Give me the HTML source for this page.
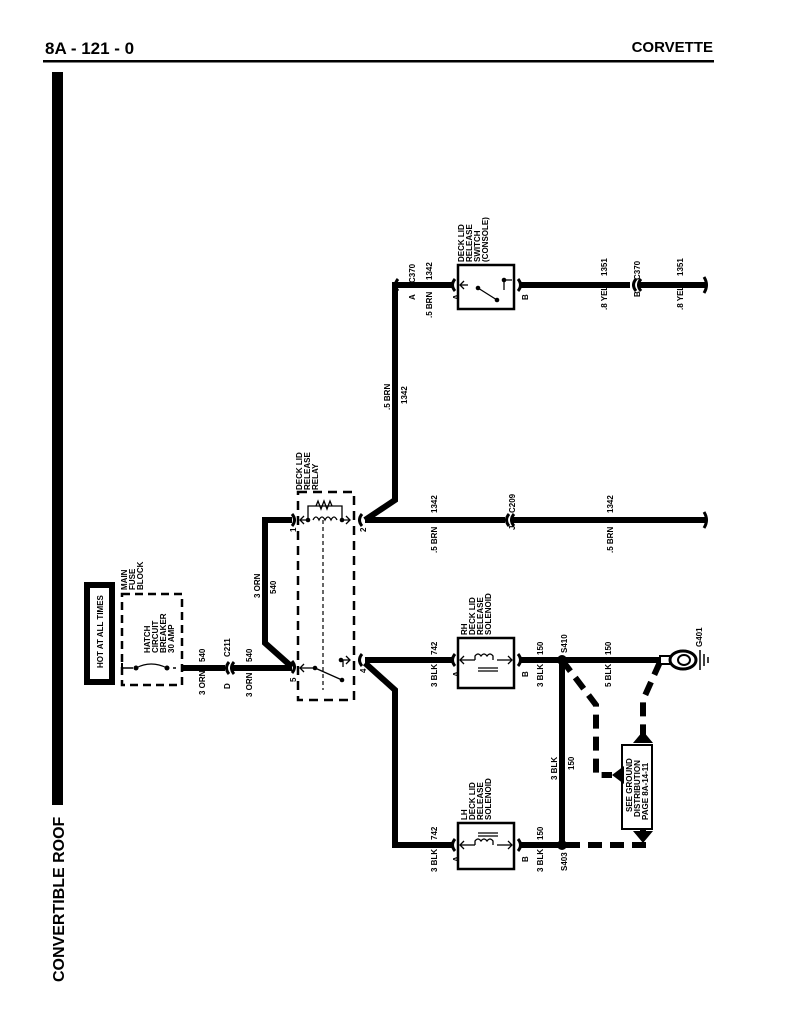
<!DOCTYPE html>
<html><head><meta charset="utf-8"><style>
html,body{margin:0;padding:0;background:#fff;}
svg{display:block;}
text{font-family:"Liberation Sans",sans-serif;font-weight:bold;fill:#000;}
.s{font-size:8px;}
</style></head><body>
<svg width="791" height="1024" viewBox="0 0 791 1024" xmlns="http://www.w3.org/2000/svg">
<text x="45" y="54" font-size="17">8A - 121 - 0</text>
<text x="713" y="52" font-size="15" text-anchor="end">CORVETTE</text>
<rect x="43" y="60" width="671" height="2.5"/>
<rect x="52" y="72" width="11" height="733"/>
<text transform="translate(64,982) rotate(-90)" font-size="16">CONVERTIBLE ROOF</text>

<g fill="none" stroke="#000" stroke-width="6" stroke-linejoin="miter">
<!-- top -->
<polyline points="365,520 395,500 395,285 452,285"/>
<line x1="520" y1="285" x2="630" y2="285"/>
<line x1="638" y1="285" x2="706" y2="285"/>
<!-- middle -->
<line x1="365" y1="520" x2="505" y2="520"/>
<line x1="512" y1="520" x2="706" y2="520"/>
<polyline points="292,520 265,520 265,643 292,667"/>
<!-- bottom -->
<line x1="182" y1="668" x2="225" y2="668"/>
<line x1="232" y1="668" x2="292" y2="668"/>
<line x1="365" y1="660" x2="452" y2="660"/>
<polyline points="365,663 395,690 395,845 452,845"/>
<line x1="520" y1="660" x2="660" y2="660"/>
<line x1="520" y1="845" x2="562" y2="845"/>
<line x1="562" y1="660" x2="562" y2="845"/>
</g>
<g fill="none" stroke="#000" stroke-width="6" stroke-dasharray="14,8">
<polyline points="562,660 596,705 596,775 612,775"/>
<polyline points="660,662 643,700 643,735"/>
<polyline points="566,845 643,845 643,828"/>
</g>
<!-- connectors -->
<g fill="none" stroke="#000" stroke-width="3">
<path d="M229,662 q-5,6 0,12 M234,662 q-5,6 0,12"/>
<path d="M509,514 q-5,6 0,12 M514,514 q-5,6 0,12"/>
<path d="M398,279 q-5,6 0,12"/>
<path d="M455,279 q-5,6 0,12"/>
<path d="M636,279 q-5,6 0,12 M641,279 q-5,6 0,12"/>
<path d="M704,277 q5,8 0,16 M704,512 q5,8 0,16"/>
<path d="M518,279 q5,6 0,12 M455,654 q-5,6 0,12 M518,654 q5,6 0,12 M455,839 q-5,6 0,12 M518,839 q5,6 0,12"/>
<path d="M292,514 q5,6 0,12 M292,661 q5,6 0,12 M362,514 q-5,6 0,12 M362,654 q-5,6 0,12"/>
</g>
<!-- boxes -->
<rect x="87" y="585" width="25" height="97" fill="none" stroke="#000" stroke-width="6"/>
<text transform="translate(103,668) rotate(-90)" class="s">HOT AT ALL TIMES</text>
<rect x="122" y="594" width="60" height="91" fill="none" stroke="#000" stroke-width="2.5" stroke-dasharray="8,5"/>
<line x1="122" y1="668" x2="176" y2="668" stroke="#000" stroke-width="1.5" stroke-dasharray="0"/>
<rect x="133" y="663" width="40" height="10" fill="#fff"/>
<circle cx="136" cy="668" r="2.5"/><circle cx="167" cy="668" r="2.5"/>
<path d="M136,668 q15,-8 31,0" fill="none" stroke="#000" stroke-width="1.2"/>
<line x1="122" y1="663" x2="122" y2="673" stroke="#000" stroke-width="2"/>
<text transform="translate(150,653) rotate(-90)" class="s">HATCH</text>
<text transform="translate(158,653) rotate(-90)" class="s">CIRCUIT</text>
<text transform="translate(166,653) rotate(-90)" class="s">BREAKER</text>
<text transform="translate(174,653) rotate(-90)" class="s">30 AMP</text>
<text transform="translate(127,590) rotate(-90)" class="s">MAIN</text>
<text transform="translate(135,590) rotate(-90)" class="s">FUSE</text>
<text transform="translate(143,590) rotate(-90)" class="s">BLOCK</text>

<text transform="translate(205,662) rotate(-90)" class="s">540</text>
<text transform="translate(205,695) rotate(-90)" class="s">3 ORN</text>
<text transform="translate(230,657) rotate(-90)" class="s">C211</text>
<text transform="translate(230,689) rotate(-90)" class="s">D</text>
<text transform="translate(252,662) rotate(-90)" class="s">540</text>
<text transform="translate(252,697) rotate(-90)" class="s">3 ORN</text>
<text transform="translate(260,598) rotate(-90)" class="s">3 ORN</text>
<text transform="translate(276,594) rotate(-90)" class="s">540</text>

<!-- relay -->
<rect x="298" y="492" width="56" height="208" fill="none" stroke="#000" stroke-width="2.5" stroke-dasharray="9,6"/>
<line x1="323" y1="520" x2="323" y2="690" stroke="#000" stroke-width="1.2" stroke-dasharray="4,3"/>
<g fill="none" stroke="#000" stroke-width="1.3">
<polyline points="300,520 308,520 308,506 342,506 342,520 350,520"/>
<path d="M316,506 l2,-5 l3,8 l3,-8 l3,8 l3,-8 l2,5"/>
<path d="M313,520 q3,-6 6,0 q3,-6 6,0 q3,-6 6,0 q3,-6 6,0"/>
<path d="M304,516 l-4,4 l4,4 M346,516 l4,4 l-4,4"/>
<line x1="300" y1="668" x2="315" y2="668"/><line x1="315" y1="668" x2="342" y2="680"/>
<line x1="341" y1="660" x2="350" y2="660"/><line x1="343" y1="660" x2="343" y2="667"/>
<path d="M304,664 l-4,4 l4,4 M346,656 l4,4 l-4,4"/>
</g>
<circle cx="308" cy="520" r="2.3"/><circle cx="342" cy="520" r="2.3"/>
<circle cx="315" cy="668" r="2.3"/><circle cx="342" cy="680" r="2.3"/><circle cx="341" cy="660" r="2.3"/>
<text transform="translate(302,490) rotate(-90)" class="s">DECK LID</text>
<text transform="translate(310,490) rotate(-90)" class="s">RELEASE</text>
<text transform="translate(318,490) rotate(-90)" class="s">RELAY</text>
<text transform="translate(296,532) rotate(-90)" class="s">1</text>
<text transform="translate(366,532) rotate(-90)" class="s">2</text>
<text transform="translate(296,682) rotate(-90)" class="s">5</text>
<text transform="translate(366,673) rotate(-90)" class="s">4</text>

<!-- switch -->
<rect x="458" y="265" width="56" height="44" fill="none" stroke="#000" stroke-width="2.5"/>
<g fill="none" stroke="#000" stroke-width="1.3">
<line x1="460" y1="285" x2="468" y2="285"/><path d="M464,281 l-4,4 l4,4"/>
<line x1="478" y1="288" x2="497" y2="300"/>
<line x1="504" y1="280" x2="512" y2="280"/><line x1="504" y1="280" x2="504" y2="290"/>
</g>
<circle cx="478" cy="288" r="2.3"/><circle cx="497" cy="300" r="2.3"/><circle cx="504" cy="280" r="2.3"/>
<text transform="translate(464,262) rotate(-90)" class="s">DECK LID</text>
<text transform="translate(472,262) rotate(-90)" class="s">RELEASE</text>
<text transform="translate(480,262) rotate(-90)" class="s">SWITCH</text>
<text transform="translate(488,262) rotate(-90)" class="s">(CONSOLE)</text>
<text transform="translate(415,283) rotate(-90)" class="s">C370</text>
<text transform="translate(415,300) rotate(-90)" class="s">A</text>
<text transform="translate(432,280) rotate(-90)" class="s">1342</text>
<text transform="translate(432,318) rotate(-90)" class="s">.5 BRN</text>
<text transform="translate(459,300) rotate(-90)" class="s">A</text>
<text transform="translate(528,300) rotate(-90)" class="s">B</text>
<text transform="translate(607,276) rotate(-90)" class="s">1351</text>
<text transform="translate(607,310) rotate(-90)" class="s">.8 YEL</text>
<text transform="translate(640,280) rotate(-90)" class="s">C370</text>
<text transform="translate(640,297) rotate(-90)" class="s">B</text>
<text transform="translate(683,276) rotate(-90)" class="s">1351</text>
<text transform="translate(683,310) rotate(-90)" class="s">.8 YEL</text>
<text transform="translate(390,410) rotate(-90)" class="s">.5 BRN</text>
<text transform="translate(407,404) rotate(-90)" class="s">1342</text>
<text transform="translate(437,513) rotate(-90)" class="s">1342</text>
<text transform="translate(437,553) rotate(-90)" class="s">.5 BRN</text>
<text transform="translate(515,513) rotate(-90)" class="s">C209</text>
<text transform="translate(515,530) rotate(-90)" class="s">J</text>
<text transform="translate(613,513) rotate(-90)" class="s">1342</text>
<text transform="translate(613,553) rotate(-90)" class="s">.5 BRN</text>

<!-- RH solenoid -->
<rect x="458" y="638" width="56" height="50" fill="none" stroke="#000" stroke-width="2.5"/>
<g fill="none" stroke="#000" stroke-width="1.3">
<line x1="460" y1="660" x2="475" y2="660"/><line x1="497" y1="660" x2="512" y2="660"/>
<path d="M475,660 v-4 q3,-4 6,0 q3,-4 6,0 q3,-4 6,0 v4"/>
<line x1="478" y1="668" x2="498" y2="668"/><line x1="478" y1="671" x2="498" y2="671"/>
<path d="M464,656 l-4,4 l4,4 M508,656 l4,4 l-4,4"/>
</g>
<text transform="translate(467,635) rotate(-90)" class="s">RH</text>
<text transform="translate(475,635) rotate(-90)" class="s">DECK LID</text>
<text transform="translate(483,635) rotate(-90)" class="s">RELEASE</text>
<text transform="translate(491,635) rotate(-90)" class="s">SOLENOID</text>
<text transform="translate(437,655) rotate(-90)" class="s">742</text>
<text transform="translate(437,687) rotate(-90)" class="s">3 BLK</text>
<text transform="translate(459,677) rotate(-90)" class="s">A</text>
<text transform="translate(528,677) rotate(-90)" class="s">B</text>
<text transform="translate(543,655) rotate(-90)" class="s">150</text>
<text transform="translate(543,687) rotate(-90)" class="s">3 BLK</text>
<circle cx="562" cy="660" r="5"/>
<text transform="translate(567,653) rotate(-90)" class="s">S410</text>
<text transform="translate(611,655) rotate(-90)" class="s">150</text>
<text transform="translate(611,687) rotate(-90)" class="s">5 BLK</text>
<!-- ground eyelet -->
<rect x="660" y="656" width="10" height="8" fill="#fff" stroke="#000" stroke-width="2"/>
<ellipse cx="683" cy="660" rx="13" ry="9" fill="none" stroke="#000" stroke-width="3"/>
<ellipse cx="684" cy="660" rx="6" ry="5" fill="none" stroke="#000" stroke-width="2"/>
<line x1="700" y1="650" x2="700" y2="670" stroke="#000" stroke-width="1.5"/>
<line x1="704" y1="654" x2="704" y2="666" stroke="#000" stroke-width="1.5"/>
<line x1="708" y1="657" x2="708" y2="663" stroke="#000" stroke-width="1.5"/>
<text transform="translate(702,647) rotate(-90)" class="s">G401</text>
<!-- ground box -->
<rect x="622" y="745" width="30" height="84" fill="#fff" stroke="#000" stroke-width="2"/>
<text transform="translate(632,812) rotate(-90)" class="s">SEE GROUND</text>
<text transform="translate(640,817) rotate(-90)" class="s">DISTRIBUTION</text>
<text transform="translate(648,820) rotate(-90)" class="s">PAGE 8A-14-11</text>
<polygon points="612,775 624,766 624,784"/>
<polygon points="633,743 643,731 653,743"/>
<polygon points="633,831 653,831 643,843"/>
<text transform="translate(557,780) rotate(-90)" class="s">3 BLK</text>
<text transform="translate(574,770) rotate(-90)" class="s">150</text>
<!-- LH solenoid -->
<rect x="458" y="823" width="56" height="46" fill="none" stroke="#000" stroke-width="2.5"/>
<g fill="none" stroke="#000" stroke-width="1.3">
<line x1="460" y1="845" x2="475" y2="845"/><line x1="497" y1="845" x2="512" y2="845"/>
<path d="M475,845 v-4 q3,-4 6,0 q3,-4 6,0 q3,-4 6,0 v4"/>
<line x1="478" y1="833" x2="498" y2="833"/><line x1="478" y1="836" x2="498" y2="836"/>
<path d="M464,841 l-4,4 l4,4 M508,841 l4,4 l-4,4"/>
</g>
<text transform="translate(467,820) rotate(-90)" class="s">LH</text>
<text transform="translate(475,820) rotate(-90)" class="s">DECK LID</text>
<text transform="translate(483,820) rotate(-90)" class="s">RELEASE</text>
<text transform="translate(491,820) rotate(-90)" class="s">SOLENOID</text>
<text transform="translate(437,840) rotate(-90)" class="s">742</text>
<text transform="translate(437,872) rotate(-90)" class="s">3 BLK</text>
<text transform="translate(459,862) rotate(-90)" class="s">A</text>
<text transform="translate(528,862) rotate(-90)" class="s">B</text>
<text transform="translate(543,840) rotate(-90)" class="s">150</text>
<text transform="translate(543,872) rotate(-90)" class="s">3 BLK</text>
<circle cx="562" cy="845" r="5"/>
<text transform="translate(567,871) rotate(-90)" class="s">S403</text>
</svg>
</body></html>
